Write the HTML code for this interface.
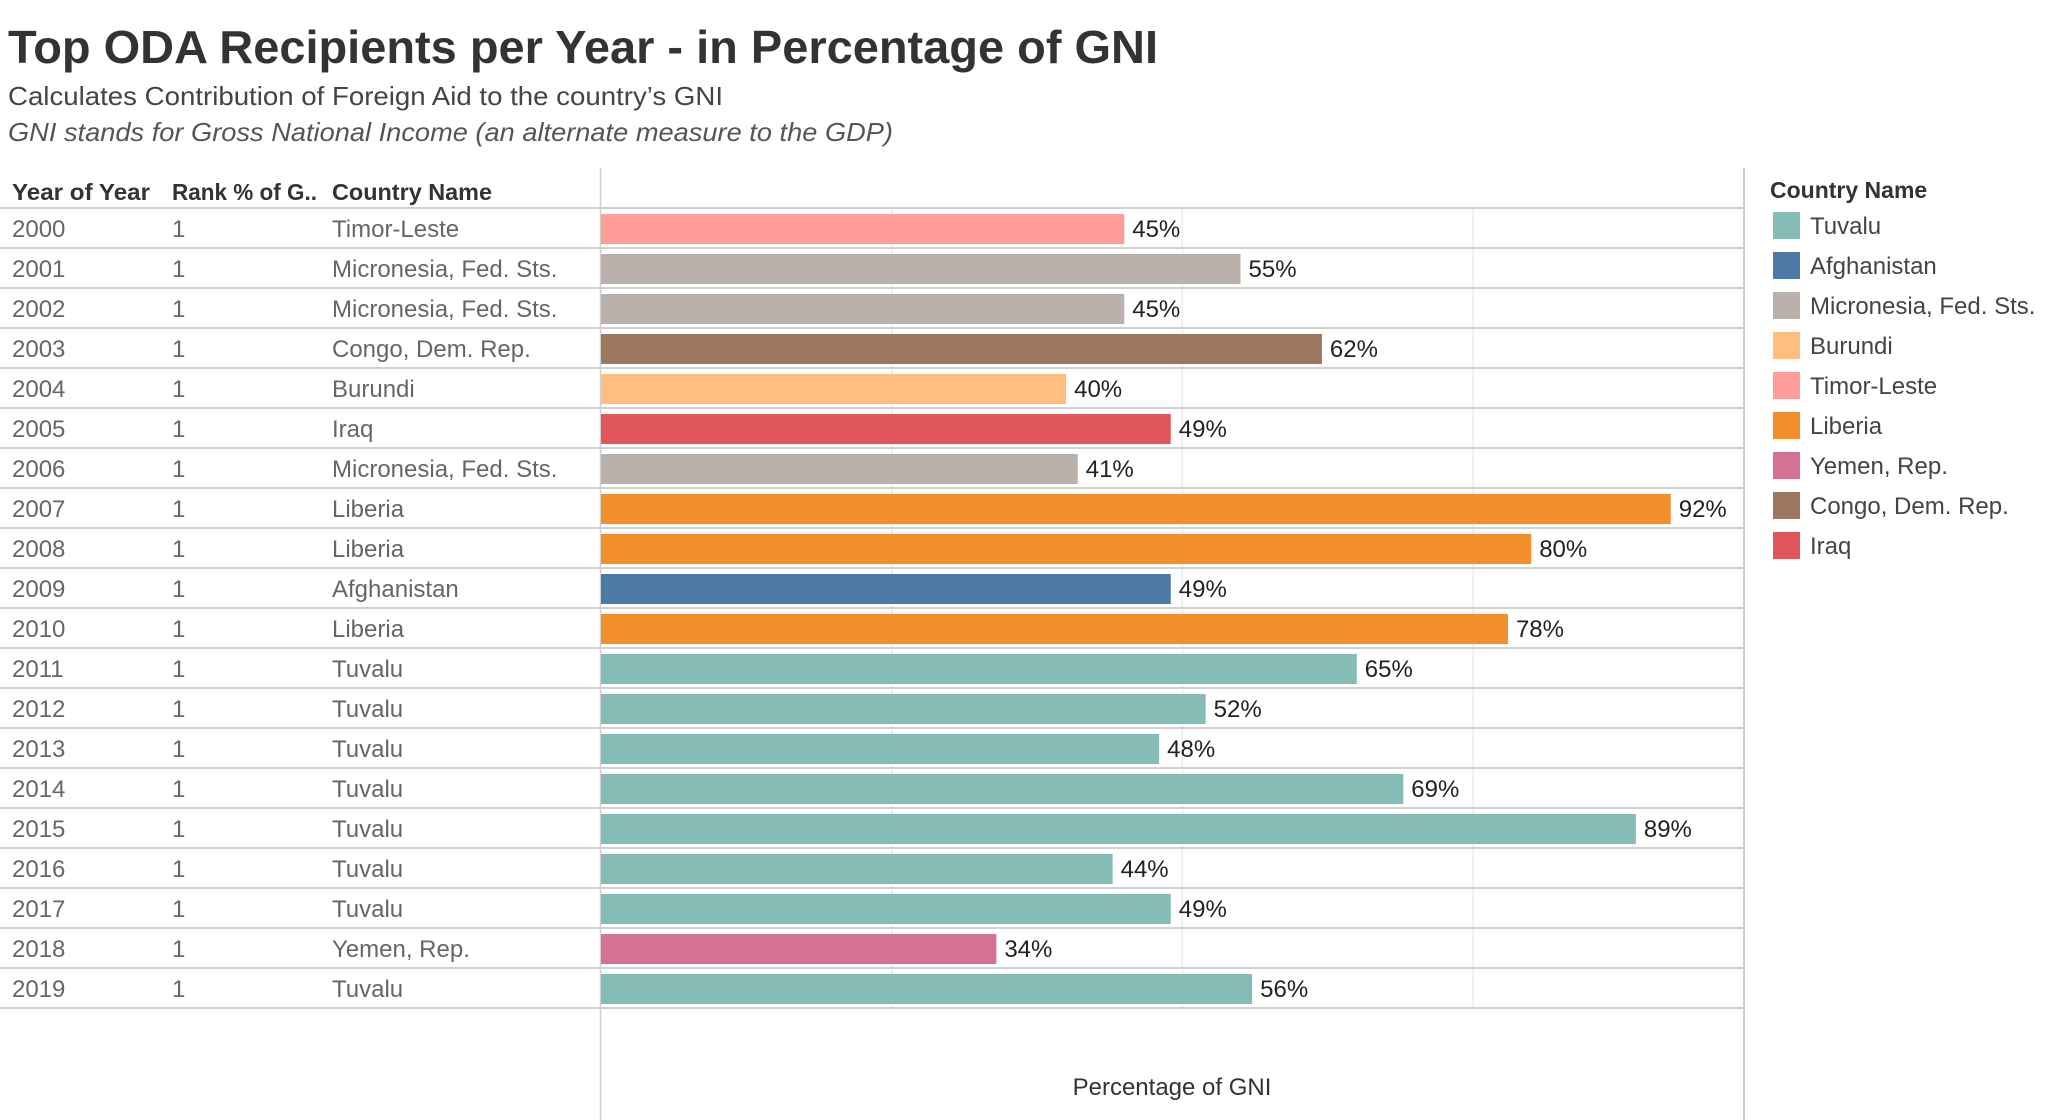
<!DOCTYPE html>
<html><head><meta charset="utf-8"><style>
body{margin:0;background:#fff;width:2056px;height:1120px;overflow:hidden}
svg{display:block;font-family:"Liberation Sans",sans-serif}
</style></head><body>
<svg id="chart" width="2056" height="1120">
<text x="8" y="63" font-size="46" font-weight="bold" fill="#333" textLength="1150" lengthAdjust="spacingAndGlyphs">Top ODA Recipients per Year  - in Percentage of GNI</text>
<text x="8" y="105" font-size="26" fill="#444" textLength="715" lengthAdjust="spacingAndGlyphs">Calculates Contribution of Foreign Aid to the country’s GNI</text>
<text x="8" y="141" font-size="26" font-style="italic" fill="#555" textLength="885" lengthAdjust="spacingAndGlyphs">GNI stands for Gross National Income (an alternate measure to the GDP)</text>
<text x="12" y="200" font-size="23" font-weight="bold" fill="#333" textLength="138" lengthAdjust="spacingAndGlyphs">Year of Year</text>
<text x="172" y="200" font-size="23" font-weight="bold" fill="#333" textLength="145" lengthAdjust="spacingAndGlyphs">Rank % of G..</text>
<text x="332" y="200" font-size="23" font-weight="bold" fill="#333" textLength="160" lengthAdjust="spacingAndGlyphs">Country Name</text>
<line x1="600.5" y1="168" x2="600.5" y2="1120" stroke="#d0d0d0" stroke-width="1.5"/>
<line x1="1744" y1="168" x2="1744" y2="1120" stroke="#d0d0d0" stroke-width="2"/>
<g id="grid"></g>
<g id="rows"></g>
<text x="1172" y="1095" font-size="24" fill="#333" text-anchor="middle">Percentage of GNI</text>
<text x="1770" y="198" font-size="23" font-weight="bold" fill="#333">Country Name</text>
<g id="legend"></g>
</svg>
<script>
const years=["2000","2001","2002","2003","2004","2005","2006","2007","2008","2009","2010","2011","2012","2013","2014","2015","2016","2017","2018","2019"];
const countries=["Timor-Leste","Micronesia, Fed. Sts.","Micronesia, Fed. Sts.","Congo, Dem. Rep.","Burundi","Iraq","Micronesia, Fed. Sts.","Liberia","Liberia","Afghanistan","Liberia","Tuvalu","Tuvalu","Tuvalu","Tuvalu","Tuvalu","Tuvalu","Tuvalu","Yemen, Rep.","Tuvalu"];
const values=[45,55,45,62,40,49,41,92,80,49,78,65,52,48,69,89,44,49,34,56];
const ranks=[1,1,1,1,1,1,1,1,1,1,1,1,1,1,1,1,1,1,1,1];
const gridTicks=[0,25,50,75];
const legendNames=["Tuvalu","Afghanistan","Micronesia, Fed. Sts.","Burundi","Timor-Leste","Liberia","Yemen, Rep.","Congo, Dem. Rep.","Iraq"];
const legendColors=["#86bcb6","#4e79a7","#bab0ac","#ffbe7d","#ff9d9a","#f28e2b","#d37295","#9d7660","#e15759"];
const NS="http://www.w3.org/2000/svg";
const x0=601,xMax=98.3,xW=1143;
const xs=v=>x0+v/xMax*xW;
const rowTop=i=>208+i*40;
function mk(tag,attrs,parent){const e=document.createElementNS(NS,tag);for(const k in attrs)e.setAttribute(k,attrs[k]);parent.appendChild(e);return e;}
const grid=document.getElementById('grid'),rows=document.getElementById('rows'),leg=document.getElementById('legend');
gridTicks.forEach(t=>{if(t===0)return;
 const l=mk('line',{x1:xs(t),x2:xs(t),y1:208,y2:1008,stroke:'#ececec','stroke-width':1.5},grid);
 
 });
const colorOf=n=>legendColors[legendNames.indexOf(n)];
years.forEach((y,i)=>{
 const top=rowTop(i),mid=top+29;
 const ln=mk('line',{x1:0,x2:1744,y1:top+40,y2:top+40,stroke:'#d0d0d0','stroke-width':2},rows);
 
 
 const t1=mk('text',{x:12,y:mid,'font-size':24,fill:'#666'},rows);t1.textContent=y;
 
 
 const t2=mk('text',{x:172,y:mid,'font-size':24,fill:'#666'},rows);t2.textContent=ranks[i];
 
 
 const t3=mk('text',{x:332,y:mid,'font-size':24,fill:'#666'},rows);t3.textContent=countries[i];
 
 
 const b=mk('rect',{x:x0,y:top+6,width:xs(values[i])-x0,height:30,fill:colorOf(countries[i])},rows);
 
 
 const lb=mk('text',{x:xs(values[i])+8,y:mid,'font-size':24,fill:'#222'},rows);lb.textContent=values[i]+'%';
 
 
});
mk('line',{x1:0,x2:1744,y1:208,y2:208,stroke:'#d0d0d0','stroke-width':2},rows);
legendNames.forEach((n,i)=>{
 const y=212+i*40;
 const r=mk('rect',{x:1773,y:y,width:27,height:27,fill:legendColors[i]},leg);
 
 
 const t=mk('text',{x:1810,y:y+22,'font-size':24,fill:'#444'},leg);t.textContent=n;
 
 
});
</script>
</body></html>
